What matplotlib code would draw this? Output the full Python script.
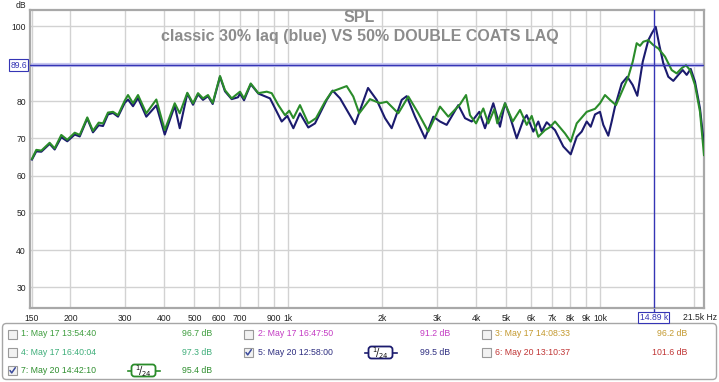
import matplotlib
matplotlib.use("Agg")
import matplotlib.pyplot as plt
from matplotlib.patches import Rectangle, FancyBboxPatch
import matplotlib.transforms as mtransforms

# ---------------- data ----------------
green_freq = [150.5, 155.4, 161.3, 171.5, 178.0, 186.9, 195.4, 206.4, 214.2, 226.5,
              236.2, 246.4, 254.4, 263.9, 273.9, 284.2, 298.7, 306.0, 317.5, 329.5,
              350.3, 377.2, 401.4, 432.1, 448.4, 474.2, 494.6, 513.2, 532.5, 552.5,
              572.1, 603.8, 626.4, 658.2, 699.8, 721.0, 757.6, 801.4, 852.7, 884.7,
              929.0, 975.9, 1007, 1038, 1090, 1159, 1227, 1311, 1378, 1539,
              1616, 1689, 1828, 1969, 2069, 2254, 2427, 2613, 2812, 3067,
              3261, 3555, 3717, 3828, 4002, 4223, 4382, 4581, 4683, 4957,
              5248, 5539, 5820, 6038, 6339, 6661, 6911, 7172, 7723, 8055,
              8419, 9065, 9639, 10000, 10375, 10766, 11254, 11878, 12324, 12731,
              13113, 13439, 13771, 14289, 14825, 15381, 16163, 16982, 17620, 18283,
              18874, 19441, 20170, 20932, 21559]
green_db = [64.5, 66.9, 66.7, 68.8, 67.3, 70.9, 69.6, 71.5, 70.9, 75.6,
            72.0, 74.2, 74.0, 76.9, 77.1, 76.2, 80.1, 81.6, 79.4, 81.6,
            76.7, 80.4, 72.2, 79.4, 76.7, 82.2, 79.4, 82.1, 80.7, 81.6,
            79.5, 86.7, 82.9, 80.7, 82.5, 80.7, 84.7, 82.1, 82.5, 82.1,
            78.9, 76.2, 77.4, 75.4, 78.9, 74.0, 75.4, 79.8, 82.5, 84.0,
            81.2, 76.7, 80.5, 79.4, 79.8, 76.7, 81.2, 76.7, 71.8, 78.5,
            75.8, 79.1, 81.6, 76.2, 74.0, 78.0, 74.0, 77.8, 74.0, 79.4,
            74.5, 77.6, 73.6, 76.0, 70.4, 72.2, 73.0, 74.5, 71.3, 69.1,
            74.0, 77.1, 77.9, 79.4, 81.6, 80.3, 78.9, 83.4, 86.5, 90.5,
            95.5, 94.8, 95.9, 96.3, 95.0, 94.1, 91.9, 88.3, 87.4, 88.8,
            89.6, 88.3, 84.3, 77.1, 65.5]

navy_freq = [150.5, 155.4, 161.3, 171.5, 178.0, 186.9, 195.4, 206.4, 214.2, 226.5,
             236.2, 246.4, 254.4, 263.9, 273.9, 284.2, 298.7, 306.0, 317.5, 329.5,
             350.3, 377.2, 401.4, 432.1, 448.4, 474.2, 494.6, 513.2, 532.5, 552.5,
             572.1, 603.8, 626.4, 658.2, 689.6, 699.8, 721.0, 757.6, 801.4, 873.6,
             952.4, 992.7, 1038, 1090, 1159, 1218, 1328, 1388, 1466, 1637,
             1802, 1921, 2043, 2146, 2311, 2398, 2550, 2746, 2919, 3067,
             3222, 3511, 3689, 3877, 4100, 4276, 4546, 4776, 4957, 5143,
             5404, 5675, 5820, 6109, 6339, 6501, 6745, 7172, 7627, 8055,
             8419, 8736, 9065, 9336, 9639, 10000, 10247, 10632, 10902, 11171,
             11738, 12234, 12731, 13174, 13709, 14289, 14652, 15090, 15498, 15962,
             16561, 17185, 17834, 18420, 18971, 19544, 20172, 20932, 21559]
navy_db = [64.3, 66.5, 66.4, 68.5, 67.0, 70.3, 69.2, 71.0, 70.5, 75.3,
           71.6, 73.5, 73.3, 76.4, 76.8, 75.8, 79.5, 80.4, 78.6, 80.8,
           75.8, 78.8, 71.0, 78.7, 72.7, 82.0, 79.0, 81.8, 80.3, 81.3,
           79.2, 86.5, 82.6, 80.5, 81.0, 82.0, 80.2, 84.5, 82.0, 80.7,
           74.5, 76.0, 72.7, 76.7, 72.9, 74.0, 80.3, 82.8, 80.7, 73.8,
           83.5, 80.3, 75.4, 72.7, 80.3, 81.3, 75.8, 70.0, 75.8, 74.5,
           73.6, 78.9, 75.4, 74.5, 77.1, 72.7, 79.4, 73.1, 79.4, 75.8,
           70.0, 74.9, 76.2, 71.8, 74.5, 71.8, 74.3, 72.2, 67.8, 65.7,
           70.4, 71.8, 74.5, 73.1, 76.4, 77.1, 73.6, 70.7, 74.5, 78.5,
           84.7, 86.5, 84.3, 81.4, 90.5, 96.3, 98.1, 99.9, 95.0, 90.1,
           86.5, 85.4, 87.0, 88.3, 87.0, 88.6, 85.2, 78.0, 68.2]

x_ticks = [150, 200, 300, 400, 500, 600, 700, 800, 900, 1000, 2000, 3000, 4000,
           5000, 6000, 7000, 8000, 9000, 10000, 20000]
x_labels = ["150", "200", "300", "400", "500", "600", "700", "", "900", "1k", "2k",
            "3k", "4k", "5k", "6k", "7k", "8k", "9k", "10k", ""]
y_ticks = [30, 40, 50, 60, 70, 80, 90, 100]
y_labels = ["30", "40", "50", "60", "70", "80", "", "100"]

cursor_freq = 14890
cursor_db = 89.6

title1 = "SPL"
title2 = "classic 30% laq (blue) VS 50% DOUBLE COATS LAQ"

legend_rows = [
    # (checked, label, value, color, col, row, filter)
    (False, "1: May 17 13:54:40", "96.7 dB", "#3f9e3f", 0, 0, False),
    (False, "2: May 17 16:47:50", "91.2 dB", "#c43cc4", 1, 0, False),
    (False, "3: May 17 14:08:33", "96.2 dB", "#c49a30", 2, 0, False),
    (False, "4: May 17 16:40:04", "97.3 dB", "#3fae7a", 0, 1, False),
    (True, "5: May 20 12:58:00", "99.5 dB", "#2e2e80", 1, 1, True),
    (False, "6: May 20 13:10:37", "101.6 dB", "#c03535", 2, 1, False),
    (True, "7: May 20 14:42:10", "95.4 dB", "#2f8f2f", 0, 2, True),
]

NAVY = "#1b1b6e"
GREEN = "#2a8c2a"
CURSOR = "#3535b5"
FONT = "Liberation Sans"

W, H = 719, 382
fig = plt.figure(figsize=(W / 100, H / 100), dpi=100)
fig.patch.set_facecolor("white")

L, R, T, B = 29.5, 704, 10, 308
ax = fig.add_axes([L / W, 1 - B / H, (R - L) / W, (B - T) / H])
ax.set_xscale("log")
ax.set_xlim(147.8, 21560)
ax.set_ylim(24.5, 104.4)
ax.minorticks_off()
ax.set_xticks(x_ticks)
ax.set_xticklabels(x_labels)
ax.set_yticks(y_ticks)
ax.set_yticklabels(y_labels)
ax.tick_params(axis="both", length=0, labelsize=6.2, colors="#222222")
ax.tick_params(axis="x", pad=4)
ax.tick_params(axis="y", pad=2.5)
for lab in ax.get_xticklabels() + ax.get_yticklabels():
    lab.set_fontfamily(FONT)
ax.grid(True, color="#d2d2d2", lw=1.0)
ax.set_axisbelow(True)
for s in ax.spines.values():
    s.set_color("#a8a8a8")
    s.set_linewidth(1.6)

ax.plot(navy_freq, navy_db, color=NAVY, lw=1.5, zorder=3, solid_joinstyle="round")
ax.plot(green_freq, green_db, color=GREEN, lw=1.5, zorder=4, solid_joinstyle="round")

# cursors
ax.axhline(cursor_db, color="#c8c8f0", lw=3, zorder=2)
ax.axhline(cursor_db, color=CURSOR, lw=1.0, zorder=5)
ax.plot([cursor_freq, cursor_freq], [24.5, 104.4], color=CURSOR, lw=1.0, zorder=5)
ax.plot([cursor_freq, cursor_freq], [24.5, 23.4], color=CURSOR, lw=1.0, clip_on=False)
trans_y = mtransforms.blended_transform_factory(ax.transAxes, ax.transData)
ax.text(-0.004, cursor_db, "89.6", transform=trans_y, ha="right", va="center",
        fontsize=6.2, family=FONT, color=CURSOR,
        bbox=dict(boxstyle="square,pad=0.15", fc="white", ec=CURSOR, lw=0.8))

# overlay in pixel coordinates
ov = fig.add_axes([0, 0, 1, 1], zorder=10)
ov.set_xlim(0, W)
ov.set_ylim(H, 0)
ov.axis("off")
ov.patch.set_alpha(0)

cx_pix = ax.transData.transform((cursor_freq, 50))[0]
ov.text(cx_pix, 317.5, "14.89 k", ha="center", va="center",
        fontsize=6.2, family=FONT, color=CURSOR,
        bbox=dict(boxstyle="square,pad=0.15", fc="white", ec=CURSOR, lw=0.8))

ov.text(21, 5, "dB", ha="center", va="center", fontsize=6.2, family=FONT, color="#222222")
ov.text(700, 317, "21.5k Hz", ha="center", va="center", fontsize=6.2, family=FONT,
        color="#222222")
ov.text(359, 17.5, title1, ha="center", va="center", fontsize=11.5, weight="bold",
        family=FONT, color="#8c8c8c")
ov.text(360, 36.5, title2, ha="center", va="center", fontsize=11.5, weight="bold",
        family=FONT, color="#8c8c8c")

# legend panel
ov.add_patch(FancyBboxPatch((2.5, 323.5), 714, 56, boxstyle="round,pad=0,rounding_size=4",
                            fc="white", ec="#a6a6a6", lw=1.0))
col_box = [12.5, 248.5, 486]
col_txt = [21, 258, 495]
col_val = [212, 450, 687]
col_badge = [143.5, 380.5, None]
row_y = [334, 352.5, 370.5]
for checked, label, val, color, c, r, filt in legend_rows:
    y = row_y[r]
    bx = col_box[c]
    ov.add_patch(Rectangle((bx - 4.5, y - 4.5), 9, 9, fc="#f2f2f2", ec="#9a9a9a", lw=0.8))
    if checked:
        ov.plot([bx - 2.5, bx - 0.8, bx + 2.8], [y, y + 2.4, y - 2.8], color="#3b4a9c",
                lw=1.1, solid_capstyle="round")
    ov.text(col_txt[c], y, label, ha="left", va="center", fontsize=6.3, family=FONT,
            color=color)
    ov.text(col_val[c], y, val, ha="right", va="center", fontsize=6.3, family=FONT,
            color=color)
    if filt:
        cx = col_badge[c]
        lc = GREEN if c == 0 else NAVY
        ov.plot([cx - 16, cx + 16], [y, y], color=lc, lw=1.2)
        ov.add_patch(FancyBboxPatch((cx - 12, y - 6), 24, 12,
                                    boxstyle="round,pad=0,rounding_size=3",
                                    fc="white", ec=lc, lw=1.3, zorder=5))
        ov.text(cx, y + 0.5, r"$^{1}\!/_{24}$", ha="center", va="center", fontsize=7,
                color="#111111", zorder=6)

fig.savefig("out.png", dpi=100)
